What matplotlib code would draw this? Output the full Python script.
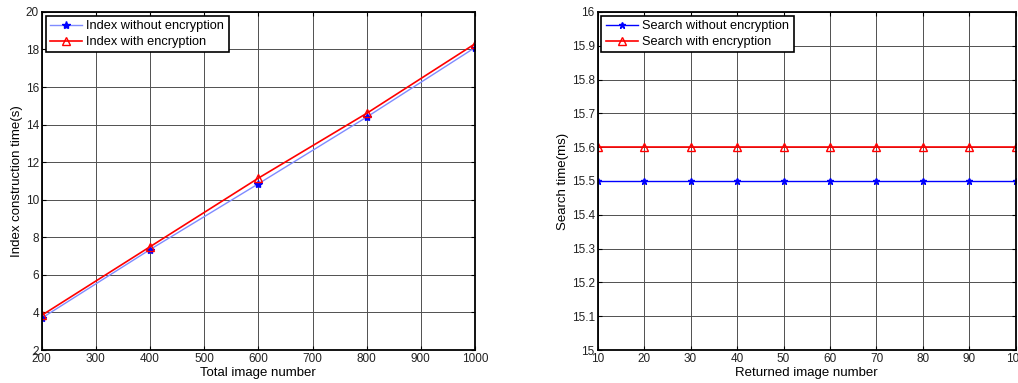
import numpy as np
import matplotlib
matplotlib.use("Agg")
import matplotlib.pyplot as plt

plt.rcParams['font.family'] = ['Liberation Sans', 'DejaVu Sans']
plt.rcParams['font.size'] = 8.5

# donnees : construction de l'index
total_images = [200, 400, 600, 800, 1000]
index_plain = [3.7, 7.35, 10.85, 14.4, 18.1]
index_enc = [3.85, 7.5, 11.15, 14.6, 18.3]

# donnees : recherche
returned_images = [10, 20, 30, 40, 50, 60, 70, 80, 90, 100]
search_plain = [15.5] * 10
search_enc = [15.6] * 10

fig = plt.figure(figsize=(10.18, 3.83), dpi=100)
ax1 = fig.add_axes([0.041, 0.086, 0.4256, 0.883])
ax2 = fig.add_axes([0.587, 0.086, 0.411, 0.883])


def style(ax):
   ax.grid(True, color='#505050', linewidth=0.7, linestyle='-')
   ax.tick_params(direction='in', length=3, width=0.8, top=True, right=True,
                  colors='black', labelcolor='#222222', pad=2)
   for s in ax.spines.values():
      s.set_linewidth(1.3)
   ax.set_axisbelow(True)


ax1.plot(total_images, index_plain, color='#7f8bff', lw=1, marker='*', ms=6,
         mfc='blue', mec='blue', label="Index without encryption")
ax1.plot(total_images, index_enc, color='red', lw=1.2, marker='^', ms=6,
         mfc='none', mec='red', label="Index with encryption")
ax1.set_xlim(200, 1000)
ax1.set_ylim(2, 20)
ax1.set_xticks(np.arange(200, 1001, 100))
ax1.set_yticks(np.arange(2, 21, 2))
ax1.set_xlabel("Total image number", labelpad=1.5, fontsize=9.5)
ax1.set_ylabel("Index construction time(s)", labelpad=2, fontsize=9.5)
style(ax1)

ax2.plot(returned_images, search_plain, color='blue', lw=1, marker='*', ms=5,
         mfc='blue', mec='blue', label="Search without encryption")
ax2.plot(returned_images, search_enc, color='red', lw=1.2, marker='^', ms=6,
         mfc='none', mec='red', label="Search with encryption")
ax2.set_xlim(10, 100)
ax2.set_ylim(15, 16)
ax2.set_xticks(np.arange(10, 101, 10))
ax2.set_yticks(np.arange(15, 16.01, 0.1))
ax2.set_yticklabels(["%g" % v for v in np.round(np.arange(15, 16.01, 0.1), 1)])
ax2.set_xlabel("Returned image number", labelpad=1.5, fontsize=9.5)
ax2.set_ylabel("Search time(ms)", labelpad=2, fontsize=9.5)
style(ax2)

for ax in (ax1, ax2):
   leg = ax.legend(loc='upper left', fancybox=False, framealpha=1,
                   edgecolor='black', borderaxespad=0.3, handlelength=2.5,
                   borderpad=0.35, labelspacing=0.3, fontsize=9.2,
                   handletextpad=0.35)
   leg.get_frame().set_linewidth(1.2)

fig.savefig("out.png", dpi=100)
